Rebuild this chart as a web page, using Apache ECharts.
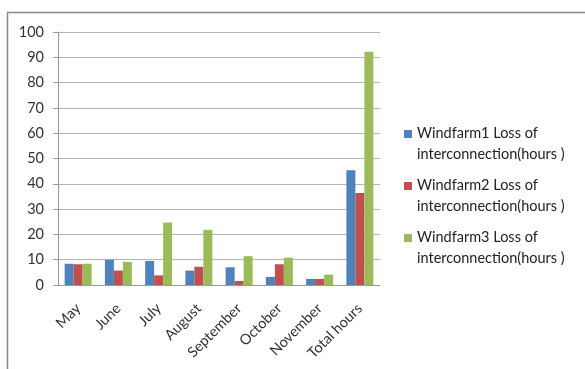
<!DOCTYPE html>
<html><head><meta charset="utf-8">
<script src="https://cdn.jsdelivr.net/npm/echarts@6/dist/echarts.min.js"></script>
<style>html,body{margin:0;padding:0;background:#fff}#c{width:585px;height:369px}</style>
</head><body><div id="c"></div>
<script>
const categories = ['May','June','July','August','September','October','November','Total hours'];
const windfarm1 = [8.4, 10.0, 9.5, 5.7, 7.0, 3.2, 2.4, 45.4];
const windfarm2 = [8.2, 5.7, 3.8, 7.2, 1.6, 8.2, 2.4, 36.4];
const windfarm3 = [8.4, 9.1, 24.7, 21.8, 11.4, 10.8, 4.1, 92.2];
const seriesNames = ['Windfarm1 Loss of\ninterconnection(hours )','Windfarm2 Loss of\ninterconnection(hours )','Windfarm3 Loss of\ninterconnection(hours )'];
const yTicks = [0,10,20,30,40,50,60,70,80,90,100];

const font = 'Lato';
const legendIcon = 'path://M0,0h8v8h-8zM0,28h8v0.001h-8z';
const chart = echarts.init(document.getElementById('c'));
chart.setOption({
  animation:false,
  color:['#4F81BD','#C0504D','#9BBB59'],
  graphic:[{type:'rect',shape:{x:7.5,y:12.5,width:700,height:500},style:{fill:'none',stroke:'#888',lineWidth:1.5}}],
  legend:{orient:'vertical',left:399,top:118,itemWidth:8,itemHeight:28,itemGap:10,icon:legendIcon,
    textStyle:{fontFamily:font,fontSize:14.5,color:'#222',lineHeight:21}},
  grid:{left:58,right:205,top:32,bottom:84},
  xAxis:{type:'category',data:categories,
    axisLine:{lineStyle:{color:'#999'}},
    axisTick:{length:5,lineStyle:{color:'#999'}},
    axisLabel:{interval:0,rotate:45,fontFamily:font,fontSize:14.5,color:'#333',margin:21}},
  yAxis:{type:'value',min:yTicks[0],max:yTicks[yTicks.length-1],interval:10,
    axisLine:{show:true,lineStyle:{color:'#999'}},
    axisTick:{show:true,length:5,lineStyle:{color:'#999'}},
    splitLine:{lineStyle:{color:'#b5b5b5'}},
    axisLabel:{fontFamily:font,fontSize:14.5,color:'#333',margin:14}},
  series:[
    {name:seriesNames[0],type:'bar',data:windfarm1,barGap:'0%',barCategoryGap:'33%'},
    {name:seriesNames[1],type:'bar',data:windfarm2,barGap:'0%',barCategoryGap:'33%'},
    {name:seriesNames[2],type:'bar',data:windfarm3,barGap:'0%',barCategoryGap:'33%'}
  ]
});
</script></body></html>
